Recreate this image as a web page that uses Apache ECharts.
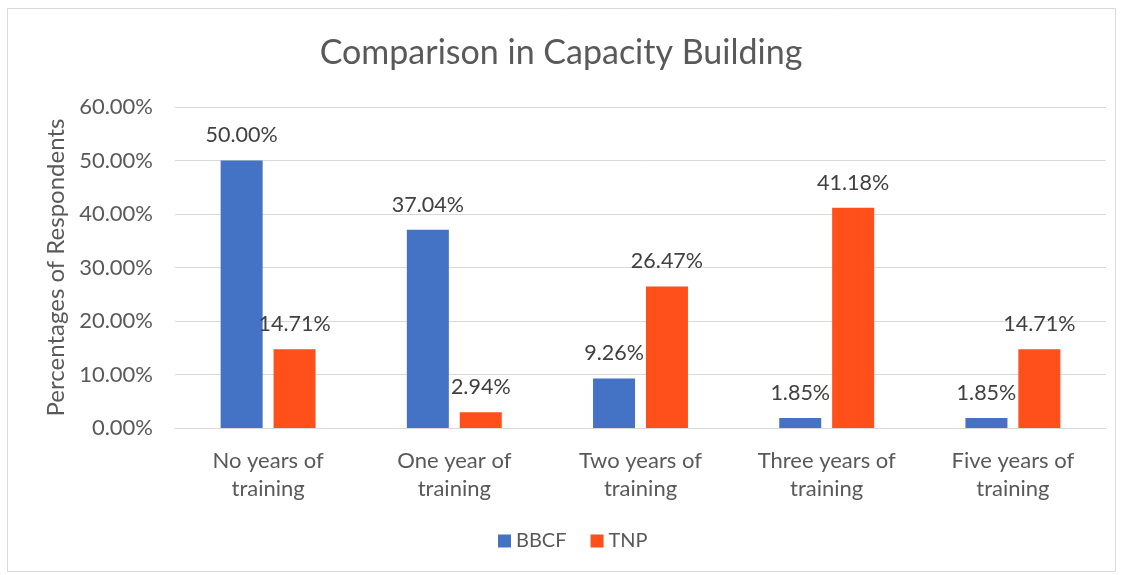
<!DOCTYPE html>
<html>
<head>
<meta charset="utf-8">
<script src="https://cdn.jsdelivr.net/npm/echarts@6/dist/echarts.min.js"></script>
<style>
  html, body { margin: 0; padding: 0; background: #fff; }
  #chart { width: 1122px; height: 575px; }
</style>
</head>
<body>
<div id="chart"></div>
<script>
var categories = ['No years of training', 'One year of training', 'Two years of training', 'Three years of training', 'Five years of training'];
var bbcf = [50.00, 37.04, 9.26, 1.85, 1.85];
var tnp = [14.71, 2.94, 26.47, 41.18, 14.71];
var seriesNames = ['BBCF', 'TNP'];

window.addEventListener('load', function() {
    var myChart = echarts.init(document.getElementById('chart'));
    var font = 'Lato, "Open Sans", sans-serif';
    var labelStyle = {
        show: true,
        position: 'top',
        distance: 14,
        color: '#404040',
        fontSize: 21.5,
        fontFamily: font,
        formatter: function(p) { return p.value.toFixed(2) + '%'; }
    };
    var option = {
        color: ['#4472C4', '#FF4F1A'],
        animation: false,
        title: {
            text: 'Comparison in Capacity Building',
            left: 'center',
            top: 31,
            textStyle: { color: '#595959', fontSize: 34, fontWeight: 'normal', fontFamily: font }
        },
        legend: {
            data: seriesNames,
            bottom: 19,
            left: 493,
            itemWidth: 13,
            itemHeight: 13,
            itemGap: 24,
            icon: 'rect',
            textStyle: { color: '#595959', fontSize: 20, fontFamily: font }
        },
        grid: {
            left: 175,
            right: 16,
            top: 107,
            bottom: 147
        },
        // border round the chart
        graphic: [{
            type: 'rect',
            shape: { x: 7.5, y: 8.5, width: 1108, height: 563 },
            style: { fill: 'none', stroke: '#d9d9d9', lineWidth: 1 },
            silent: true
        }],
        xAxis: {
            type: 'category',
            data: categories,
            axisLine: { lineStyle: { color: '#d9d9d9' } },
            axisTick: { show: false },
            axisLabel: {
                color: '#595959',
                fontSize: 22,
                fontFamily: font,
                margin: 19,
                lineHeight: 28,
                interval: 0,
                formatter: function(v) { return v.replace(' training', '\ntraining'); }
            }
        },
        yAxis: {
            type: 'value',
            min: 0,
            max: 60,
            interval: 10,
            name: 'Percentages of Respondents',
            nameLocation: 'middle',
            nameGap: 103,
            nameTextStyle: { color: '#595959', fontSize: 24, fontFamily: font },
            axisLine: { show: false },
            axisTick: { show: false },
            splitLine: { lineStyle: { color: '#d9d9d9' } },
            axisLabel: {
                color: '#595959',
                fontSize: 22,
                fontFamily: font,
                margin: 22,
                formatter: function(v) { return v.toFixed(2) + '%'; }
            }
        },
        series: [{
            name: seriesNames[0],
            type: 'bar',
            data: bbcf,
            barWidth: 42,
            barGap: '26%',
            label: labelStyle
        }, {
            name: seriesNames[1],
            type: 'bar',
            data: tnp,
            barWidth: 42,
            label: labelStyle
        }]
    };

    myChart.setOption(option);
});
</script>
</body>
</html>
